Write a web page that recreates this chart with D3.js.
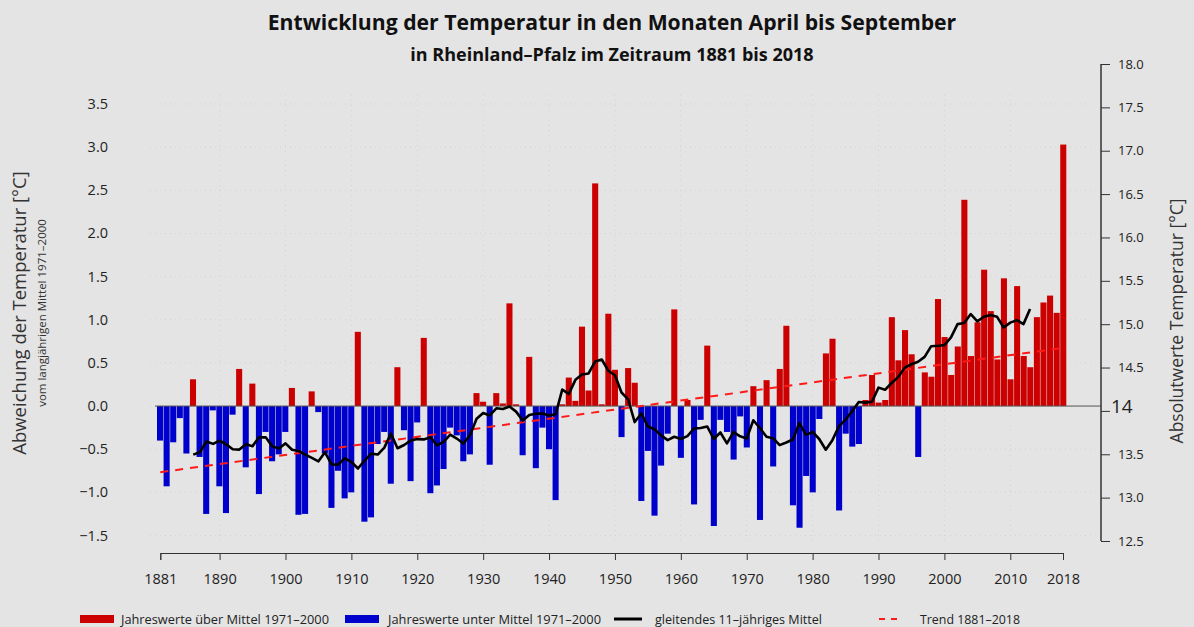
<!DOCTYPE html>
<html>
<head>
<meta charset="utf-8">
<title>Temperatur April bis September</title>
<script src="https://cdn.jsdelivr.net/npm/d3@7"></script>
<style>
body { margin:0; background:#e4e4e4; }
svg { display:block; font-family:'Open Sans', sans-serif; }
</style>
</head>
<body>
<svg id="chart" width="1194" height="627"></svg>
<script>
// Abweichung vom Mittel 1971-2000, Monate April bis September, 1881-2018
var years = d3.range(1881, 2019);
var anomalies = [
 -0.40,-0.93,-0.42,-0.14,-0.55, 0.31,-0.59,-1.25,-0.05,-0.93,   // 1881-1890
 -1.24,-0.10, 0.43,-0.71, 0.26,-1.02,-0.30,-0.64,-0.56,-0.30,   // 1891-1900
  0.21,-1.26,-1.25, 0.17,-0.07,-0.55,-1.18,-0.75,-1.07,-1.00,   // 1901-1910
  0.86,-1.34,-1.29,-0.44,-0.30,-0.90, 0.45,-0.28,-0.87,-0.19,   // 1911-1920
  0.79,-1.01,-0.92,-0.73,-0.25,-0.34,-0.64,-0.56, 0.15, 0.05,   // 1921-1930
 -0.68, 0.15, 0.03, 1.19, 0.02,-0.57, 0.57,-0.72,-0.25,-0.50,   // 1931-1940
 -1.09, 0.02, 0.33, 0.06, 0.92, 0.18, 2.58, 0.02, 1.07, 0.42,   // 1941-1950
 -0.36, 0.44, 0.27,-1.10,-0.52,-1.27,-0.69,-0.32, 1.12,-0.60,   // 1951-1960
  0.07,-1.14,-0.16, 0.70,-1.39,-0.16,-0.30,-0.62,-0.12,-0.48,   // 1961-1970
  0.23,-1.32, 0.30,-0.70, 0.43, 0.93,-1.15,-1.41,-0.81,-1.00,   // 1971-1980
 -0.15, 0.61, 0.78,-1.21,-0.32,-0.47,-0.44, 0.07, 0.36, 0.04,   // 1981-1990
  0.07, 1.03, 0.53, 0.88, 0.60,-0.59, 0.39, 0.34, 1.24, 0.80,   // 1991-2000
  0.36, 0.69, 2.39, 0.58, 0.97, 1.58, 1.10, 0.54, 1.48, 0.31,   // 2001-2010
  1.39, 0.58, 0.45, 1.03, 1.20, 1.28, 1.08, 3.03                // 2011-2018
];
var yearTicks = [1881, 1890, 1900, 1910, 1920, 1930, 1940, 1950, 1960, 1970, 1980, 1990, 2000, 2010, 2018];
var leftTicks = [-1.5, -1.0, -0.5, 0.0, 0.5, 1.0, 1.5, 2.0, 2.5, 3.0, 3.5];
var rightTicks = [12.5, 13.0, 13.5, 14.0, 14.5, 15.0, 15.5, 16.0, 16.5, 17.0, 17.5, 18.0];
var gridYears = [1890, 1900, 1910, 1920, 1930, 1940, 1950, 1960, 1970, 1980, 1990, 2000, 2010];
var legendItems = ['Jahreswerte über Mittel 1971–2000', 'Jahreswerte unter Mittel 1971–2000', 'gleitendes 11–jähriges Mittel', 'Trend 1881–2018'];

var data = years.map(function(y, i) { return {year: y, value: anomalies[i]}; });

// gleitendes 11-jaehriges Mittel (zentriert) und linearer Trend aus den Jahreswerten
var smooth = [];
for (var i = 5; i < data.length - 5; i++) {
  smooth.push({year: data[i].year, value: d3.mean(data.slice(i - 5, i + 6), function(d) { return d.value; })});
}
var mx = d3.mean(years), my = d3.mean(anomalies);
var slope = d3.sum(data, function(d) { return (d.year - mx) * (d.value - my); }) / d3.sum(data, function(d) { return (d.year - mx) * (d.year - mx); });
var trend = [1881, 2018].map(function(y) { return {year: y, value: my + slope * (y - mx)}; });

var svg = d3.select('#chart');

var xs = d3.scaleLinear().domain([1881, 2018]).range([160.3, 1063]);
var xb = d3.scaleBand().domain(years).range([157, 1066.3]).paddingInner(0.08);
var ys = d3.scaleLinear().domain([-1.5, 3.5]).range([535.5, 104]);
var yr = d3.scaleLinear().domain([12.5, 18]).range([541, 64]);

// gridlines
svg.append('g').selectAll('line').data(leftTicks).enter().append('line')
  .attr('x1', 150).attr('x2', 1095)
  .attr('y1', function(d) { return ys(d); }).attr('y2', function(d) { return ys(d); })
  .style('stroke', '#d3d3d3').style('stroke-width', 1).style('stroke-dasharray', '1,4');
svg.append('g').selectAll('line').data(gridYears).enter().append('line')
  .attr('x1', function(d) { return xs(d); }).attr('x2', function(d) { return xs(d); })
  .attr('y1', 95).attr('y2', 545)
  .style('stroke', '#d3d3d3').style('stroke-width', 1).style('stroke-dasharray', '1,4');

// bars
svg.append('g').selectAll('rect').data(data).enter().append('rect')
  .attr('x', function(d) { return xb(d.year); })
  .attr('width', xb.bandwidth())
  .attr('y', function(d) { return ys(Math.max(0, d.value)); })
  .attr('height', function(d) { return Math.abs(ys(d.value) - ys(0)); })
  .attr('fill', function(d) { return d.value >= 0 ? '#cc0000' : '#0000cc'; });

// zero line up to the right axis
svg.append('line')
  .attr('x1', 155).attr('x2', 1101)
  .attr('y1', ys(0)).attr('y2', ys(0))
  .style('stroke', '#555').style('stroke-width', 1);

// trend
svg.append('path').datum(trend)
  .attr('d', d3.line().x(function(d) { return xs(d.year); }).y(function(d) { return ys(d.value); }))
  .style('fill', 'none').style('stroke', '#ff1a1a').style('stroke-width', 2).style('stroke-dasharray', '8,7');

// moving mean
svg.append('path').datum(smooth)
  .attr('d', d3.line().x(function(d) { return xs(d.year); }).y(function(d) { return ys(d.value); }))
  .style('fill', 'none').style('stroke', '#000').style('stroke-width', 2.6).style('stroke-linejoin', 'round');

// left labels (no axis line)
svg.append('g').selectAll('text').data(leftTicks).enter().append('text')
  .attr('x', 108).attr('y', function(d) { return ys(d) + 5; })
  .attr('text-anchor', 'end').style('font-size', '14.5px').style('fill', '#222')
  .text(function(d) { return d3.format('.1f')(d); });

// x axis
var xAxis = svg.append('g').attr('transform', 'translate(0,553)')
  .call(d3.axisBottom(xs).tickValues(yearTicks).tickFormat(d3.format('d')).tickSize(7).tickPadding(14));
xAxis.select('.domain').style('stroke', '#333');
xAxis.selectAll('line').style('stroke', '#333');
xAxis.selectAll('text').style('font-size', '14.5px').style('font-family', "'Open Sans', sans-serif").style('fill', '#222');

// right axis
var rAxis = svg.append('g').attr('transform', 'translate(1101,0)')
  .call(d3.axisRight(yr).tickValues(rightTicks).tickSize(9).tickPadding(8)
    .tickFormat(function(d) { return d === 14 ? '' : d3.format('.1f')(d); }));
rAxis.select('.domain').attr('d', 'M0,' + yr(18) + 'V' + yr(12.5)).style('stroke', '#333').style('stroke-width', 1.5);
rAxis.selectAll('line').style('stroke', '#333');
rAxis.selectAll('text').style('font-size', '13px').style('font-family', "'Open Sans', sans-serif").style('fill', '#222');
svg.append('text').attr('x', 1111).attr('y', ys(0) + 7)
  .style('font-size', '19px').style('fill', '#222').text('14');

// titles
svg.append('text').attr('x', 612).attr('y', 30).attr('text-anchor', 'middle')
  .style('font-size', '21.2px').style('font-weight', 'bold').style('fill', '#111')
  .text('Entwicklung der Temperatur in den Monaten April bis September');
svg.append('text').attr('x', 612).attr('y', 61).attr('text-anchor', 'middle')
  .style('font-size', '18px').style('font-weight', 'bold').style('fill', '#111')
  .text('in Rheinland–Pfalz im Zeitraum 1881 bis 2018');

// axis titles
svg.append('text').attr('transform', 'translate(26,313) rotate(-90)').attr('text-anchor', 'middle')
  .style('font-size', '18.5px').style('fill', '#333').text('Abweichung der Temperatur [°C]');
svg.append('text').attr('transform', 'translate(46,313) rotate(-90)').attr('text-anchor', 'middle')
  .style('font-size', '11.5px').style('fill', '#333').text('vom langjährigen Mittel 1971–2000');
svg.append('text').attr('transform', 'translate(1183,321) rotate(-90)').attr('text-anchor', 'middle')
  .style('font-size', '17.5px').style('fill', '#333').text('Absolutwerte Temperatur [°C]');

// legend
var lg = svg.append('g').style('font-size', '12px').style('fill', '#222');
lg.append('rect').attr('x', 80).attr('y', 615).attr('width', 34).attr('height', 8).attr('fill', '#cc0000');
lg.append('text').attr('x', 121).attr('y', 624).attr('textLength', 208).attr('lengthAdjust', 'spacingAndGlyphs').text(legendItems[0]);
lg.append('rect').attr('x', 345).attr('y', 615).attr('width', 34).attr('height', 8).attr('fill', '#0000cc');
lg.append('text').attr('x', 388).attr('y', 624).attr('textLength', 213).attr('lengthAdjust', 'spacingAndGlyphs').text(legendItems[1]);
lg.append('line').attr('x1', 614).attr('x2', 642).attr('y1', 619).attr('y2', 619).style('stroke', '#000').style('stroke-width', 3);
lg.append('text').attr('x', 655).attr('y', 624).attr('textLength', 167).attr('lengthAdjust', 'spacingAndGlyphs').text(legendItems[2]);
lg.append('line').attr('x1', 879).attr('x2', 902).attr('y1', 619).attr('y2', 619).style('stroke', '#ff1a1a').style('stroke-width', 2).style('stroke-dasharray', '6,6');
lg.append('text').attr('x', 920).attr('y', 624).attr('textLength', 100).attr('lengthAdjust', 'spacingAndGlyphs').text(legendItems[3]);
</script>
</body>
</html>
